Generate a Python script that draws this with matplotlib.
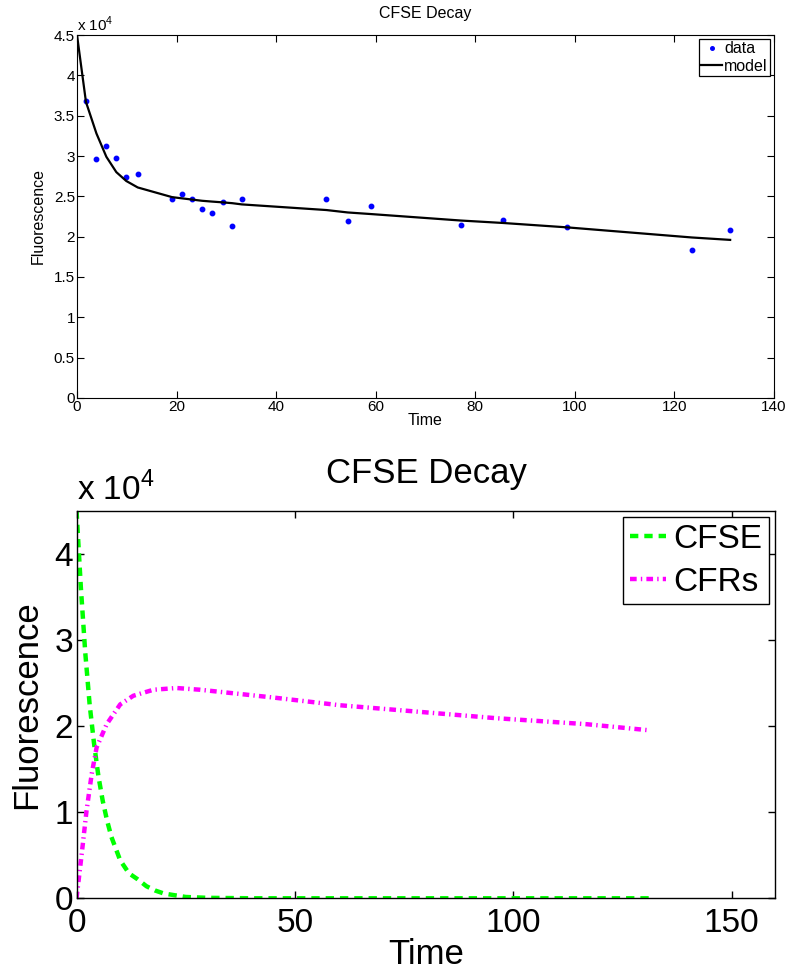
import numpy as np
import matplotlib
matplotlib.use("Agg")
import matplotlib.pyplot as plt
from matplotlib.ticker import FuncFormatter

plt.rcParams['font.family'] = ['Liberation Sans', 'DejaVu Sans']
plt.rcParams['mathtext.fontset'] = 'custom'
plt.rcParams['mathtext.rm'] = 'Liberation Sans'
plt.rcParams['lines.scale_dashes'] = False

# top panel: measured data and fitted model
data_t = [1.8, 3.9, 5.9, 7.9, 9.9, 12.2, 19.1, 21.1, 23.1, 25.1, 27.1, 29.3,
          31.2, 33.1, 50.1, 54.4, 59.1, 77.1, 85.5, 98.5, 123.5, 131.2]
data_f = [36800, 29600, 31200, 29800, 27400, 27800, 24700, 25300, 24700, 23400,
          22900, 24300, 21300, 24700, 24700, 22000, 23800, 21400, 22100, 21200,
          18300, 20800]

model_t = [0, 1.8, 3.9, 5.9, 7.9, 9.9, 12.2, 19.1, 21.1, 23.1, 25.1, 27.1, 29.3,
           31.2, 33.1, 50.1, 54.4, 59.1, 77.1, 85.5, 98.5, 123.5, 131.2]
model_f = [45000, 36700, 32800, 29900, 28000, 26900, 26100, 24900, 24750, 24600,
           24450, 24350, 24250, 24150, 24000, 23300, 23000, 22800, 22000, 21700,
           21150, 19900, 19600]

# bottom panel: simulated CFSE and CFRs curves
cfse_t = [0, 1, 2, 3, 4, 5, 6, 7, 8, 10, 12, 14, 16, 18, 20, 25, 30, 40, 131]
cfse_f = [45000, 36000, 28500, 22500, 18000, 14200, 11300, 9000, 7100, 4400,
          2900, 2200, 1400, 900, 550, 150, 50, 0, 0]

cfrs_t = [0, 1.2, 2.3, 3.5, 4.6, 6.9, 10, 13, 17.6, 22.9, 28.3, 45, 60.3, 77,
          96, 116.8, 131]
cfrs_f = [0, 5200, 10200, 14500, 17500, 20200, 22500, 23500, 24200, 24400,
          24200, 23300, 22400, 21700, 20900, 20200, 19500]

sci = FuncFormatter(lambda v, p: '%g' % (v / 1e4))

fig = plt.figure(figsize=(7.93, 9.75), dpi=100)


def matlab_axes(ax, lw):
    for s in ax.spines.values():
        s.set_linewidth(lw)
    ax.tick_params(direction='in', top=True, right=True, length=5, width=lw)


# ---- top ----
ax1 = fig.add_axes([0.0971, 0.5918, 0.8789, 0.3723])
ax1.plot(data_t, data_f, 'o', color='#0000ff', ms=3.2, label='data')
ax1.plot(model_t, model_f, '-', color='black', lw=1.6, label='model')
ax1.set_xlim(0, 140)
ax1.set_ylim(0, 45000)
ax1.set_xticks(np.arange(0, 141, 20))
ax1.set_yticks(np.arange(0, 45001, 5000))
ax1.yaxis.set_major_formatter(sci)
matlab_axes(ax1, 0.8)
ax1.tick_params(labelsize=11, pad=1.5)
ax1.set_xlabel('Time', fontsize=11.5, labelpad=-1)
ax1.set_ylabel('Fluorescence', fontsize=11.5, labelpad=6)
ax1.set_title('CFSE Decay', fontsize=11.5, pad=12)
ax1.text(0, 1.003, r'x 10$^{\mathregular{4}}$', transform=ax1.transAxes,
         fontsize=11, ha='left', va='bottom')
leg1 = ax1.legend(loc='upper right', fontsize=11.5, fancybox=False,
                  edgecolor='black', framealpha=1, borderaxespad=0.25,
                  borderpad=0.15, handlelength=1.35, handletextpad=0.1,
                  labelspacing=0.15, markerscale=0.8)
leg1.get_frame().set_linewidth(0.9)

# ---- bottom ----
ax2 = fig.add_axes([0.0965, 0.0787, 0.8813, 0.3977])
ax2.plot(cfse_t, cfse_f, color='#00ff00', lw=3.2, dashes=(6, 4.3), label='CFSE')
ax2.plot(cfrs_t, cfrs_f, color='#ff00ff', lw=3.2, dashes=(4.8, 3, 1, 3),
         label='CFRs')
ax2.set_xlim(0, 160)
ax2.set_ylim(0, 45000)
ax2.set_xticks([0, 50, 100, 150])
ax2.set_yticks(np.arange(0, 40001, 10000))
ax2.yaxis.set_major_formatter(sci)
matlab_axes(ax2, 1.0)
ax2.tick_params(labelsize=24)
ax2.tick_params(axis='x', pad=7)
ax2.tick_params(axis='y', pad=2.5)
ax2.set_xlabel('Time', fontsize=25, labelpad=-1)
ax2.set_ylabel('Fluorescence', fontsize=25, labelpad=8)
ax2.set_title('CFSE Decay', fontsize=25, pad=20)
ax2.text(0, 1.01, r'x 10$^{\mathregular{4}}$', transform=ax2.transAxes,
         fontsize=24, ha='left', va='bottom')
leg2 = ax2.legend(loc='upper right', fontsize=24, fancybox=False,
                  edgecolor='black', framealpha=1, borderaxespad=0.2,
                  borderpad=0.2, handlelength=1.1, handletextpad=0.2,
                  labelspacing=0.35)
leg2.get_frame().set_linewidth(1.0)

fig.savefig('out.png', dpi=100)
